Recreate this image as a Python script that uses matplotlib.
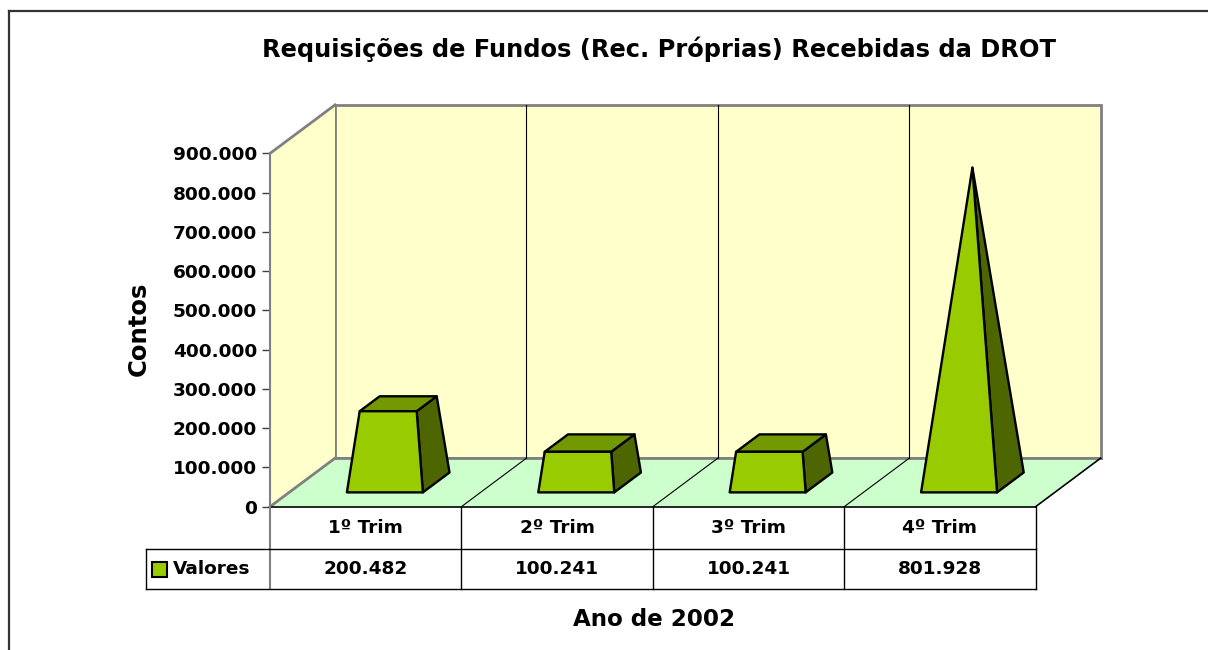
import matplotlib
matplotlib.use('Agg')
import matplotlib.pyplot as plt
from matplotlib.patches import Polygon, Rectangle
from matplotlib.lines import Line2D
from matplotlib.ticker import FuncFormatter

plt.rcParams['font.family'] = 'DejaVu Sans'
plt.rcParams['font.weight'] = 'bold'

# dados
categorias = ['1º Trim', '2º Trim', '3º Trim', '4º Trim']
valores = [200482, 100241, 100241, 801928]
serie = 'Valores'
titulo = 'Requisições de Fundos (Rec. Próprias) Recebidas da DROT'
eixo_x = 'Ano de 2002'
eixo_y = 'Contos'
yticks = list(range(0, 900001, 100000))

W, H = 1208, 650
fig = plt.figure(figsize=(W / 100, H / 100), dpi=100)


def fx(px):
    return px / W


def fy(py):
    return 1 - py / H


def fmt(v, pos=None):
    return f'{int(round(v)):,}'.replace(',', '.')


YMAX = yticks[-1]
DX = 0.3396      # profundidade em unidades de categoria
DY = 123600      # profundidade em unidades de valor
PX = 401.8 / (YMAX + DY)   # pixeis por unidade de valor

ax = fig.add_axes([fx(270), fy(506.7), fx(1100.6) - fx(270), fy(104.9) - fy(506.7)])
n = len(categorias)
ax.set_xlim(0, n + DX)
ax.set_ylim(0, YMAX + DY)
ax.patch.set_visible(False)


def proj(x, z, v):
    return (x + z * DX, v + z * DY)


wall_c = '#FFFFCC'
floor_c = '#CCFFCC'
gray = '#808080'

# paredes
ax.add_patch(Polygon([proj(0, 1, 0), proj(n, 1, 0), proj(n, 1, YMAX), proj(0, 1, YMAX)],
                     closed=True, fc=wall_c, ec=gray, lw=2, zorder=1, clip_on=False))
ax.add_patch(Polygon([proj(0, 0, 0), proj(0, 1, 0), proj(0, 1, YMAX), proj(0, 0, YMAX)],
                     closed=True, fc=wall_c, ec='none', zorder=1, clip_on=False))
ax.plot(*zip(proj(0, 0, YMAX), proj(0, 1, YMAX)), color=gray, lw=2, zorder=2, clip_on=False)
# chao
ax.add_patch(Polygon([proj(0, 0, 0), proj(n, 0, 0), proj(n, 1, 0), proj(0, 1, 0)],
                     closed=True, fc=floor_c, ec='none', zorder=1.2, clip_on=False))
ax.plot(*zip(proj(0, 0, 0), proj(0, 1, 0)), color=gray, lw=2, zorder=1.3, clip_on=False)
ax.plot(*zip(proj(0, 1, 0), proj(n, 1, 0)), color=gray, lw=2, zorder=1.3, clip_on=False)
ax.plot(*zip(proj(n, 0, 0), proj(n, 1, 0)), color='black', lw=1.2, zorder=1.3, clip_on=False)
ax.plot(*zip(proj(0, 0, 0), proj(n, 0, 0)), color='black', lw=1.2, zorder=1.3, clip_on=False)
for i in range(1, n):
    ax.plot(*zip(proj(i, 1, 0), proj(i, 1, YMAX)), color='black', lw=0.8, zorder=1.3)
    ax.plot(*zip(proj(i, 0, 0), proj(i, 1, 0)), color='black', lw=0.8, zorder=1.3)

# piramides truncadas
vmax = max(valores)
hw, hd = 0.1985, 0.205
for i, v in enumerate(valores):
    cx = i + 0.5
    s = 1 - v / vmax
    tw, td = hw * s, hd * s
    front = [proj(cx - hw, 0.5 - hd, 0), proj(cx + hw, 0.5 - hd, 0),
             proj(cx + tw, 0.5 - td, v), proj(cx - tw, 0.5 - td, v)]
    side = [proj(cx + hw, 0.5 - hd, 0), proj(cx + hw, 0.5 + hd, 0),
            proj(cx + tw, 0.5 + td, v), proj(cx + tw, 0.5 - td, v)]
    top = [proj(cx - tw, 0.5 - td, v), proj(cx + tw, 0.5 - td, v),
           proj(cx + tw, 0.5 + td, v), proj(cx - tw, 0.5 + td, v)]
    ax.add_patch(Polygon(side, closed=True, fc='#4D6600', ec='black', lw=1.7,
                         joinstyle='round', zorder=3))
    if s > 0:
        ax.add_patch(Polygon(top, closed=True, fc='#739900', ec='black', lw=1.7,
                             joinstyle='round', zorder=3))
    ax.add_patch(Polygon(front, closed=True, fc='#99CC00', ec='black', lw=1.7,
                         joinstyle='round', zorder=4))

# eixo y
for sp in ['top', 'right', 'bottom']:
    ax.spines[sp].set_visible(False)
ax.spines['left'].set_bounds(0, YMAX)
ax.spines['left'].set_color(gray)
ax.spines['left'].set_linewidth(1.5)
ax.set_xticks([])
ax.set_yticks(yticks)
ax.yaxis.set_major_formatter(FuncFormatter(fmt))
ax.tick_params(axis='y', length=5.8, width=1, color='#404040', pad=3.6, labelsize=13.3)

# tabela de dados
h1 = 42.6 / PX
h2 = 82.6 / PX
xl = -124 / 191.4
ax.plot([0, 0], [0, -h2], color=gray, lw=1.5, clip_on=False)
for i in range(1, n + 1):
    ax.plot([i, i], [0, -h2], color='black', lw=1, clip_on=False)
ax.plot([xl, n], [-h1, -h1], color='black', lw=1, clip_on=False)
ax.plot([xl, n], [-h2, -h2], color='black', lw=1, clip_on=False)
ax.plot([xl, xl], [-h1, -h2], color='black', lw=1, clip_on=False)
for i, (c, v) in enumerate(zip(categorias, valores)):
    ax.text(i + 0.5, -h1 / 2, c, ha='center', va='center', fontsize=13.3,
            fontweight='bold', clip_on=False)
    ax.text(i + 0.5, -(h1 + h2) / 2, fmt(v), ha='center', va='center', fontsize=13.3,
            fontweight='bold', clip_on=False)
ax.add_patch(Rectangle((-118.3 / 191.4, -(h1 + h2) / 2 - 7.5 / PX), 15.6 / 191.4, 15 / PX,
                       fc='#99CC00', ec='black', lw=1.5, clip_on=False))
ax.text(-97.3 / 191.4, -(h1 + h2) / 2, serie, ha='left', va='center', fontsize=13.3,
        fontweight='bold', clip_on=False)

# textos
fig.text(fx(658.5), fy(57), titulo, ha='center', va='baseline', fontsize=17.4,
         fontweight='bold')
fig.text(fx(139), fy(329), eixo_y, ha='center', va='center', rotation=90,
         fontsize=17.5, fontweight='bold')
fig.text(fx(654), fy(620), eixo_x, ha='center', va='center', fontsize=16.6,
         fontweight='bold')

# moldura
fig.add_artist(Line2D([fx(9), fx(9)], [fy(11), 0], color='#333333', lw=1.6))
fig.add_artist(Line2D([fx(9), 1], [fy(11), fy(11)], color='#333333', lw=1.6))

fig.savefig('out.png', dpi=100)
